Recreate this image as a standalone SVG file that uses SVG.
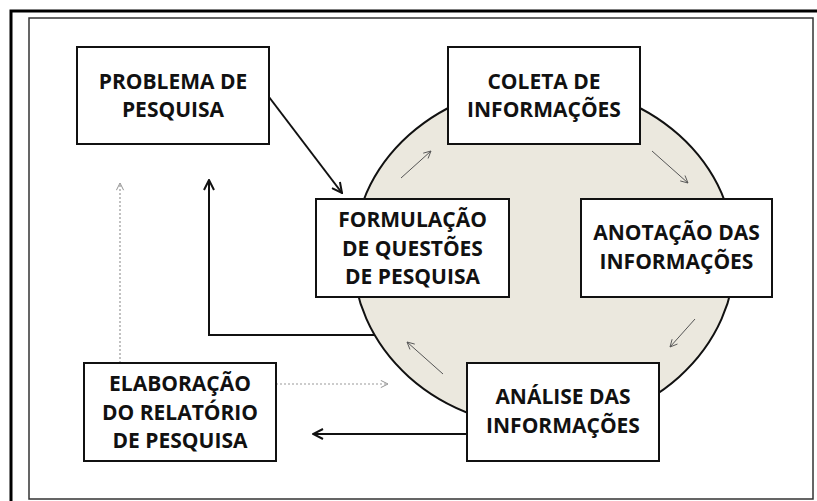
<svg xmlns="http://www.w3.org/2000/svg" width="817" height="501" viewBox="0 0 817 501">
<defs>
<style>
.box{fill:#fff;stroke:#111;stroke-width:2}
.t{font-family:"Open Sans","Liberation Sans",sans-serif;font-weight:bold;font-size:21px;fill:#111;text-anchor:middle}
.main{fill:none;stroke:#111;stroke-width:2}
.thin{fill:none;stroke:#555;stroke-width:1}
.dot{fill:none;stroke:#999;stroke-width:1.2;stroke-dasharray:2 2}
</style>
<marker id="ah" viewBox="0 0 12 12" refX="11" refY="6" markerWidth="12" markerHeight="12" markerUnits="userSpaceOnUse" orient="auto">
<path d="M1,1 L11,6 L1,11" fill="none" stroke="#111" stroke-width="2"/>
</marker>
<marker id="ahThin" viewBox="0 0 10 10" refX="9" refY="5" markerWidth="9" markerHeight="9" markerUnits="userSpaceOnUse" orient="auto">
<path d="M1,1 L9,5 L1,9" fill="none" stroke="#555" stroke-width="1"/>
</marker>
<marker id="ahDot" viewBox="0 0 10 10" refX="9" refY="5" markerWidth="9" markerHeight="9" markerUnits="userSpaceOnUse" orient="auto">
<path d="M1,1 L9,5 L1,9" fill="none" stroke="#888" stroke-width="1"/>
</marker>
</defs>
<rect x="0" y="0" width="817" height="501" fill="#fff"/>
<rect x="11" y="11" width="820" height="500" fill="none" stroke="#000" stroke-width="3"/>
<rect x="29" y="18" width="784" height="481" fill="none" stroke="#333" stroke-width="1.5"/>
<ellipse id="cycle" cx="544" cy="256" rx="191" ry="171" fill="#EBE8DE" stroke="#111" stroke-width="2"/>
<g id="connectors">
<line class="main" x1="269" y1="97" x2="342" y2="193" marker-end="url(#ah)"/>
<polyline class="main" points="374,335 209,335 209,180" marker-end="url(#ah)"/>
<line class="main" x1="467" y1="434" x2="313" y2="434" marker-end="url(#ah)"/>
<line class="dot" x1="120" y1="363" x2="120" y2="183" marker-end="url(#ahDot)"/>
<line class="dot" x1="276" y1="384" x2="388" y2="384" marker-end="url(#ahDot)"/>
<line class="thin" x1="401" y1="178" x2="431" y2="151" marker-end="url(#ahThin)"/>
<line class="thin" x1="652" y1="151" x2="688" y2="183" marker-end="url(#ahThin)"/>
<line class="thin" x1="695" y1="319" x2="670" y2="347" marker-end="url(#ahThin)"/>
<line class="thin" x1="443" y1="374" x2="407" y2="342" marker-end="url(#ahThin)"/>
</g>
<g id="problema">
<rect class="box" x="77" y="47" width="192" height="97"/>
<text class="t" x="173" y="89">PROBLEMA DE</text>
<text class="t" x="173" y="117">PESQUISA</text>
</g>
<g id="coleta">
<rect class="box" x="448" y="47" width="192" height="97"/>
<text class="t" x="544" y="89">COLETA DE</text>
<text class="t" x="544" y="117">INFORMAÇÕES</text>
</g>
<g id="anotacao">
<rect class="box" x="581" y="199" width="191" height="98"/>
<text class="t" x="676.5" y="240">ANOTAÇÃO DAS</text>
<text class="t" x="676.5" y="269">INFORMAÇÕES</text>
</g>
<g id="formulacao">
<rect class="box" x="316" y="199" width="193" height="98"/>
<text class="t" x="412.5" y="227">FORMULAÇÃO</text>
<text class="t" x="412.5" y="256">DE QUESTÕES</text>
<text class="t" x="412.5" y="284">DE PESQUISA</text>
</g>
<g id="elaboracao">
<rect class="box" x="84" y="363" width="192" height="98"/>
<text class="t" x="180" y="391">ELABORAÇÃO</text>
<text class="t" x="180" y="420">DO RELATÓRIO</text>
<text class="t" x="180" y="448">DE PESQUISA</text>
</g>
<g id="analise">
<rect class="box" x="467" y="363" width="192" height="98"/>
<text class="t" x="563" y="404">ANÁLISE DAS</text>
<text class="t" x="563" y="433">INFORMAÇÕES</text>
</g>
</svg>
